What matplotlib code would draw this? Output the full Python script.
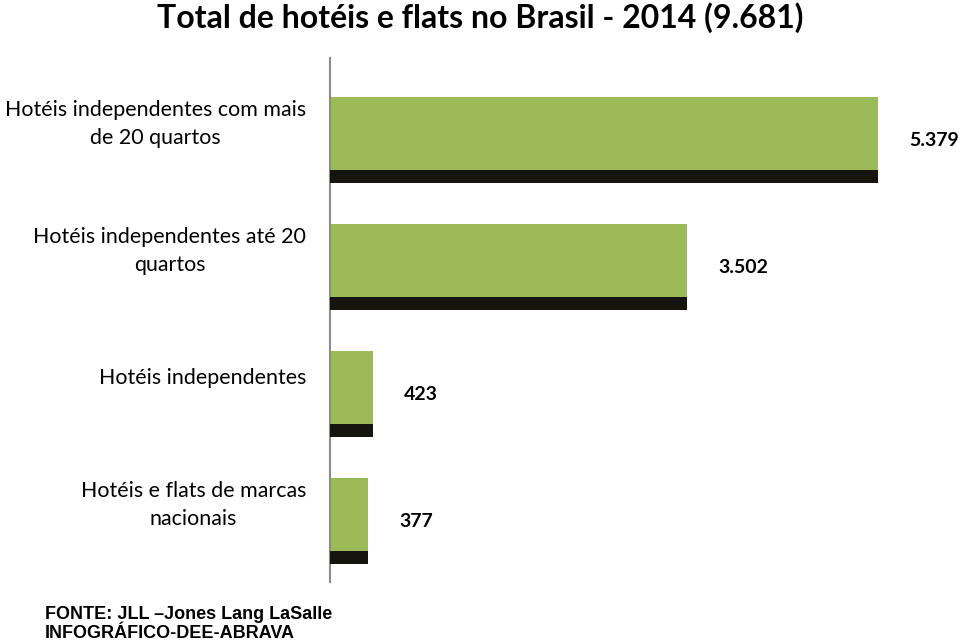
import matplotlib
matplotlib.use("Agg")
import matplotlib.pyplot as plt

# chart data
categorias = [
    "Hotéis independentes com mais\nde 20 quartos",
    "Hotéis independentes até 20\nquartos",
    "Hotéis independentes",
    "Hotéis e flats de marcas\nnacionais",
]
valores = [5379, 3502, 423, 377]
rotulos = ["5.379", "3.502", "423", "377"]
titulo = "Total de hotéis e flats no Brasil - 2014 (9.681)"
fonte = "FONTE: JLL \u2013Jones Lang LaSalle\nINFOGRÁFICO-DEE-ABRAVA"

verde = "#9BBB59"
escuro = "#15150D"

W, H = 960, 643
fig = plt.figure(figsize=(W / 100, H / 100), dpi=100)

# axes placed in pixel terms: y axis line at x=330, from y=58 to y=582
ax = fig.add_axes([330 / W, 1 - 582 / H, 632 / W, (582 - 58) / H])
ax.set_xlim(0, 6200)
ax.set_ylim(3.476, -0.645)

alt = 0.676          # total bar height (green + dark band)
faixa = 0.102        # dark bottom band
pos = list(range(len(valores)))

ax.barh(pos, valores, height=alt, color=verde, edgecolor="none", zorder=2)
ax.barh([p + alt / 2 - faixa / 2 for p in pos], valores, height=faixa,
        color=escuro, edgecolor="none", zorder=3)

for p, v, r in zip(pos, valores, rotulos):
    ax.annotate(r, xy=(v, p), xytext=(31, 0), textcoords="offset pixels",
                ha="left", va="center", fontsize=14, fontweight="bold",
                family="Lato", color="black")

for p, c in zip(pos, categorias):
    ax.annotate(c, xy=(0, p), xycoords=("axes fraction", "data"),
                xytext=(-24, 16), textcoords="offset pixels",
                ha="right", va="center", multialignment="center",
                fontsize=15.4, family="Lato", color="black", linespacing=1.5)

for s in ["top", "right", "bottom"]:
    ax.spines[s].set_visible(False)
ax.spines["left"].set_color("#8C8C8C")
ax.spines["left"].set_linewidth(1.5)
ax.set_xticks([])
ax.set_yticks([])

fig.text(0.5, 1 - 18 / H, titulo, ha="center", va="center",
         fontsize=23, fontweight="bold", family="Lato")
fig.text(45 / W, 1 - 624 / H, fonte, ha="left", va="center",
         fontsize=13, fontweight="bold", family="Liberation Sans",
         linespacing=1.15)

fig.savefig("out.png", dpi=100)
